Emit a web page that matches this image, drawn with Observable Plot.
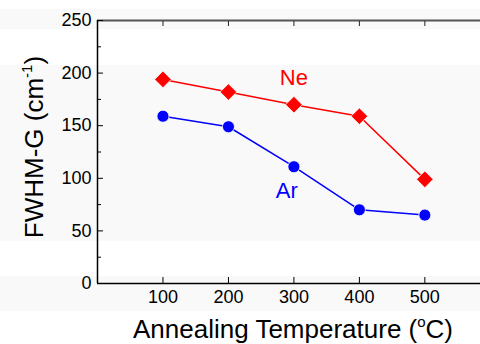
<!DOCTYPE html>
<html><head><meta charset="utf-8">
<script src="https://cdn.jsdelivr.net/npm/d3@7"></script>
<script src="https://cdn.jsdelivr.net/npm/@observablehq/plot@0.6"></script>
<style>
html,body{margin:0;padding:0;background:#fff;overflow:hidden;}
#chart{width:480px;height:344px;position:relative;
background:
 linear-gradient(to bottom, transparent 0px, transparent 9px, #f9f9f9 9px, #f9f9f9 29px, transparent 29px, transparent 65px, #f9f9f9 65px, #f9f9f9 241px, transparent 241px, transparent 276px, #f9f9f9 276px, #f9f9f9 311px, transparent 311px);}
svg{display:block;}
</style></head><body><div id="chart"></div>
<script>
const temperatures = [100, 200, 300, 400, 500];
const neFWHM = [194, 182, 170, 159, 99];
const arFWHM = [159, 149, 111, 70, 65];
const xTicks = [100, 200, 300, 400, 500];
const yTicks = [0, 50, 100, 150, 200, 250];
const yMinorTicks = [25, 75, 125, 175, 225];
const seriesNames = ["Ne", "Ar"];
const seriesColors = ["#ff0000", "#0000ff"];
const labelX = [300, 289];
const labelY = [195, 88];

const ne = temperatures.map((t, i) => ({t, v: neFWHM[i]}));
const ar = temperatures.map((t, i) => ({t, v: arFWHM[i]}));
const labels = seriesNames.map((n, i) => ({n, x: labelX[i], y: labelY[i], c: seriesColors[i]}));

const font = "'Liberation Sans', Arial, sans-serif";
const plot = Plot.plot({
  width: 480, height: 344,
  marginLeft: 97, marginRight: 0, marginTop: 20, marginBottom: 61,
  x: {domain: [0, 585]},
  y: {domain: [0, 250]},
  style: {fontFamily: font, fontSize: "18px", color: "#000", background: "transparent", overflow: "visible"},
  marks: [
    Plot.ruleY([250], {stroke: "#555", strokeWidth: 2}),
    Plot.axisX(xTicks, {anchor: "top", tickSize: -5, tickFormat: () => "", label: null, stroke: "#222"}),
    Plot.axisX(xTicks, {anchor: "bottom", tickSize: -6, tickPadding: 13, label: null, fontSize: 18}),
    Plot.axisY(yTicks, {anchor: "left", tickSize: -6, tickPadding: 12, label: null, fontSize: 18}),
    Plot.axisY(yMinorTicks, {anchor: "left", tickSize: -4, tickFormat: () => "", label: null}),
    Plot.ruleX([0], {stroke: "#000", strokeWidth: 1.5}),
    Plot.ruleY([0], {stroke: "#000", strokeWidth: 1.5}),
    Plot.line(ne, {x: "t", y: "v", stroke: seriesColors[0], strokeWidth: 1.5}),
    Plot.line(ar, {x: "t", y: "v", stroke: seriesColors[1], strokeWidth: 1.5}),
    Plot.dot(ne, {x: "t", y: "v", symbol: "diamond2", r: 7.5, fill: seriesColors[0], stroke: "#fff", strokeWidth: 0.8}),
    Plot.dot(ar, {x: "t", y: "v", r: 6, fill: seriesColors[1], stroke: "#fff", strokeWidth: 0.8}),
    Plot.text(labels, {x: "x", y: "y", text: "n", fill: "c", fontSize: 22})
  ]
});
document.getElementById("chart").appendChild(plot);

const svg = d3.select(plot);
// y-axis title
const yt = svg.append("text")
  .attr("transform", "translate(43,147) rotate(-90)")
  .attr("text-anchor", "middle")
  .attr("font-family", font).attr("font-size", 26).attr("fill", "#000");
yt.append("tspan").text("FWHM-G (cm");
yt.append("tspan").attr("font-size", 15).attr("dy", -11).text("-1");
yt.append("tspan").attr("dy", 11).text(")");
// x-axis title
const xt = svg.append("text")
  .attr("x", 293).attr("y", 338)
  .attr("text-anchor", "middle")
  .attr("font-family", font).attr("font-size", 26).attr("fill", "#000");
xt.append("tspan").text("Annealing Temperature (");
xt.append("tspan").attr("font-size", 15).attr("dy", -11).text("o");
xt.append("tspan").attr("dy", 11).text("C)");
</script>
</body></html>
